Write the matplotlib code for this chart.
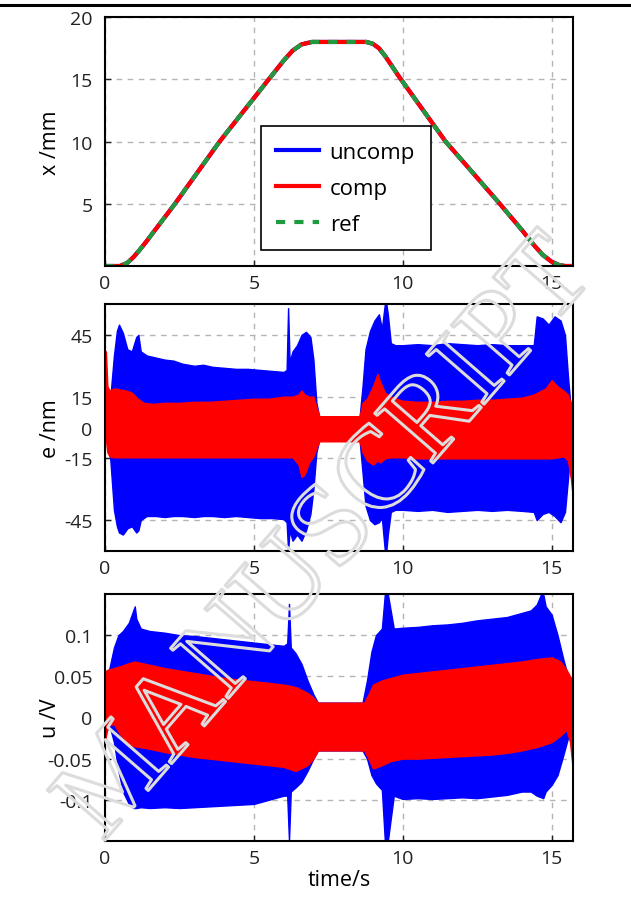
import numpy as np
import matplotlib.pyplot as plt
from matplotlib.lines import Line2D
import matplotlib.patheffects as pe

plt.rcParams['font.family'] = ['Open Sans', 'DejaVu Sans']
plt.rcParams['axes.unicode_minus'] = False

# reference trajectory x(t) in mm
t_x = [0, 0.5, 0.75, 0.95, 1.15, 1.4, 1.7, 2.35, 3.85, 5.5, 6.0, 6.3, 6.6, 6.95, 8.78, 9.0, 9.2, 9.4, 9.6, 9.85,
       11.44, 13.26, 14.0, 14.4, 14.7, 15.0, 15.25, 15.45, 15.72]
x_ref = [0, 0, 0.25, 0.7, 1.25, 2.0, 2.95, 5, 10, 15, 16.5, 17.3, 17.8, 18.0, 18.0, 17.85, 17.5, 16.9, 16.2, 15.3,
         10, 5, 2.9, 1.7, 0.9, 0.35, 0.08, 0, 0]

# tracking error envelopes (nm), uncompensated
t_e_b = [0.0, 0.15, 0.3, 0.4, 0.47, 0.6, 0.75, 0.9, 1.05, 1.12, 1.2, 1.4, 1.7, 2.0, 2.3, 2.6, 3.0, 3.3, 3.6, 4.0,
         4.4, 4.8, 5.2, 5.6, 6.0, 6.1, 6.15, 6.2, 6.3, 6.45, 6.6, 6.75, 6.9, 7.0, 7.1, 7.2, 8.55, 8.65, 8.75, 8.9,
         9.05, 9.2, 9.3, 9.4, 9.45, 9.5, 9.6, 9.75, 10.0, 10.5, 11.0, 11.5, 12.0, 12.5, 13.0, 13.5, 14.0, 14.4, 14.5,
         14.7, 14.9, 15.1, 15.3, 15.45, 15.55, 15.65, 15.72]
e_b_hi = [5, 10, 35, 47, 50, 46, 38, 37, 44, 45, 37, 35, 34, 33, 32.5, 31, 30, 30.5, 29.5, 29,
          28.5, 28.5, 28, 27.5, 27, 28, 58, 32, 37, 40, 45, 46.5, 44, 33, 12, 5, 5, 20, 38, 47,
          52, 55, 48, 60, 60, 55, 41, 40, 40, 40.5, 40, 41, 40.5, 40, 40.5, 40, 40, 40, 54,
          53, 50, 54, 52, 45, 25, 8, 2]
e_b_lo = [-5, -10, -40, -48, -51, -52, -49, -48, -51, -50, -45, -43, -43, -43.5, -43, -43, -43.5, -43, -43, -43.5,
          -43, -43.5, -44, -44, -44.5, -46, -60, -50, -55, -52, -55, -50, -42, -30, -12, -6, -6, -22, -38, -45,
          -47, -46, -44, -60, -60, -52, -41, -40, -40, -40.5, -40, -41, -40.5, -40, -40.5, -40, -40.5, -41, -45,
          -42, -41, -43, -46, -41, -25, -8, -2]

# tracking error envelopes (nm), compensated
t_e_r = [0.0, 0.03, 0.08, 0.15, 0.3, 0.5, 0.7, 0.9, 1.1, 1.3, 1.6, 2.0, 2.5, 3.0, 3.5, 4.0, 4.5, 5.0, 5.5, 6.0,
         6.3, 6.5, 6.6, 6.7, 6.85, 7.0, 7.1, 7.2, 8.55, 8.65, 8.8, 9.0, 9.15, 9.25, 9.4, 9.6, 10.0, 10.5, 11.0,
         11.5, 12.0, 12.5, 13.0, 13.5, 14.0, 14.4, 14.8, 15.0, 15.2, 15.4, 15.55, 15.65, 15.72]
e_r_hi = [37, 37, 20, 18, 19, 18.5, 18, 17, 14, 12, 11.5, 12, 12, 12.5, 12.5, 13, 13.5, 14, 14, 15,
          15, 16, 18, 16, 15, 15, 10, 5.5, 5.5, 12, 14, 20, 26, 22, 17, 15, 13, 12.5, 12.5,
          13, 13, 13.5, 13.5, 14, 14.5, 16, 19, 23, 20, 18, 16, 12, 5]
e_r_lo = [-6, -6, -12, -14, -14.5, -14.5, -14.5, -14.5, -14.5, -14.5, -14.5, -14.5, -14.5, -14.5, -14.5, -14.5, -14.5, -14.5, -14.5, -14.5,
          -14.5, -18, -24, -23, -17, -14, -10, -6.7, -6.7, -12, -16, -18, -16, -17, -15, -14.5, -14.5, -15, -15,
          -15, -15, -15, -15, -15, -15, -15, -15, -15, -14.5, -14, -16, -25, -35]

# control input envelopes (V), uncompensated
t_u_b = [0.0, 0.15, 0.3, 0.45, 0.6, 0.8, 0.95, 1.0, 1.05, 1.2, 1.5, 2.0, 2.5, 3.0, 3.5, 4.0, 4.5, 5.0, 5.5, 6.0,
         6.12, 6.18, 6.24, 6.4, 6.6, 6.8, 7.0, 7.15, 8.65, 8.8, 8.95, 9.1, 9.3, 9.4, 9.45, 9.5, 9.7, 10.0, 10.5,
         11.0, 11.5, 12.0, 12.5, 13.0, 13.5, 14.0, 14.3, 14.5, 14.65, 14.72, 14.8, 15.0, 15.2, 15.4, 15.55, 15.72]
u_b_hi = [0.05, 0.06, 0.085, 0.1, 0.105, 0.115, 0.13, 0.135, 0.12, 0.108, 0.105, 0.103, 0.1, 0.099, 0.097, 0.095, 0.093, 0.091, 0.089, 0.087,
          0.09, 0.138, 0.085, 0.078, 0.065, 0.045, 0.028, 0.018, 0.018, 0.045, 0.08, 0.1, 0.108, 0.15, 0.15, 0.15, 0.108, 0.109, 0.11,
          0.112, 0.113, 0.115, 0.118, 0.12, 0.122, 0.127, 0.13, 0.137, 0.15, 0.15, 0.135, 0.125, 0.1, 0.07, 0.05, 0.04]
u_b_lo = [-0.02, -0.01, -0.03, -0.065, -0.09, -0.105, -0.11, -0.11, -0.11, -0.109, -0.11, -0.109, -0.11, -0.109, -0.108, -0.107, -0.106, -0.105, -0.1, -0.095,
          -0.095, -0.15, -0.09, -0.085, -0.078, -0.065, -0.05, -0.04, -0.04, -0.05, -0.07, -0.08, -0.088, -0.15, -0.15, -0.15, -0.095, -0.099, -0.098,
          -0.099, -0.098, -0.097, -0.098, -0.096, -0.094, -0.09, -0.09, -0.095, -0.097, -0.098, -0.09, -0.082, -0.07, -0.045, -0.025, -0.01]

# control input envelopes (V), compensated
t_u_r = [0.0, 0.1, 0.3, 0.5, 0.8, 1.0, 1.5, 2.0, 2.5, 3.0, 3.5, 4.0, 4.5, 5.0, 5.5, 6.0, 6.4, 6.8, 7.0, 7.15,
         8.7, 8.85, 9.0, 9.3, 9.6, 10.0, 10.5, 11.0, 11.5, 12.0, 12.5, 13.0, 13.5, 14.0, 14.5, 15.0, 15.3, 15.5, 15.62, 15.72]
u_r_hi = [0.056, 0.058, 0.06, 0.062, 0.066, 0.068, 0.064, 0.06, 0.057, 0.054, 0.051, 0.048, 0.046, 0.044, 0.042, 0.04, 0.037, 0.03, 0.024, 0.018,
          0.018, 0.028, 0.04, 0.045, 0.048, 0.052, 0.054, 0.056, 0.058, 0.06, 0.062, 0.064, 0.066, 0.068, 0.071, 0.073, 0.068, 0.058, 0.05, 0.045]
u_r_lo = [-0.028, -0.01, -0.008, -0.02, -0.033, -0.035, -0.038, -0.042, -0.045, -0.048, -0.05, -0.052, -0.054, -0.056, -0.058, -0.06, -0.065, -0.058, -0.05, -0.04,
          -0.04, -0.05, -0.062, -0.058, -0.053, -0.05, -0.05, -0.049, -0.048, -0.047, -0.046, -0.045, -0.043, -0.04, -0.036, -0.03, -0.022, -0.015, -0.03, -0.065]

BLUE = '#0000ff'
RED = '#ff0000'
GREEN = '#1f9a3f'
FS = 14

fig = plt.figure(figsize=(6.31, 9.03), dpi=100)
ax1 = fig.add_axes([0.1664, 0.7043, 0.7417, 0.2757])
ax2 = fig.add_axes([0.1664, 0.3887, 0.7417, 0.2735])
ax3 = fig.add_axes([0.1664, 0.0676, 0.7417, 0.2735])

# position
ax1.plot(t_x, x_ref, color=BLUE, lw=3, label='uncomp')
ax1.plot(t_x, x_ref, color=RED, lw=3, label='comp')
ax1.plot(t_x, x_ref, color=GREEN, lw=3, ls=(0, (2.2, 2.2)), label='ref')
ax1.set_ylim(0, 20)
ax1.set_yticks([5, 10, 15, 20])
ax1.set_ylabel('x /mm', fontsize=15.5)
leg = ax1.legend(loc='upper left', bbox_to_anchor=(0.333, 0.562), fontsize=16, fancybox=False,
                 framealpha=1, edgecolor='black', handlelength=1.9, handletextpad=0.5,
                 borderpad=0.7, labelspacing=0.68, borderaxespad=0)
leg.get_frame().set_linewidth(1.2)

# error
ax2.fill_between(t_e_b, e_b_lo, e_b_hi, color=BLUE, lw=1.0)
ax2.fill_between(t_e_r, e_r_lo, e_r_hi, color=RED, lw=1.0)
ax2.set_ylim(-60, 60)
ax2.set_yticks([-45, -15, 0, 15, 45])
ax2.set_ylabel('e /nm', fontsize=15.5)

# control input
ax3.fill_between(t_u_b, u_b_lo, u_b_hi, color=BLUE, lw=1.0)
ax3.fill_between(t_u_r, u_r_lo, u_r_hi, color=RED, lw=1.0)
ax3.set_ylim(-0.15, 0.15)
ax3.set_yticks([-0.1, -0.05, 0, 0.05, 0.1])
ax3.set_yticklabels(['-0.1', '-0.05', '0', '0.05', '0.1'])
ax3.set_ylabel('u /V', fontsize=15.5)
ax3.set_xlabel('time/s', fontsize=15.5, labelpad=1)

for ax in (ax1, ax2, ax3):
    ax.set_xlim(0, 15.72)
    ax.set_xticks([0, 5, 10, 15])
    ax.grid(True, color='#b4b4b4', ls=(0, (4, 4)), lw=1.0)
    ax.set_axisbelow(True)
    ax.tick_params(direction='in', length=4, width=1, labelsize=FS, colors='#222222')
    ax.tick_params(axis='y', pad=9)
    ax.tick_params(axis='x', pad=6)
    for s in ax.spines.values():
        s.set_linewidth(1.5)
    ax.yaxis.set_label_coords(-0.095, 0.5)

# page rule and faint outlined watermark
fig.add_artist(Line2D([0, 1], [1 - 6 / 903] * 2, color='black', lw=2.2))
wm = fig.text(0.52, 0.40, 'MANUSCRIPT', fontsize=84, family='Liberation Serif', rotation=49,
              ha='center', va='center', color='none')
wm.set_path_effects([pe.Stroke(linewidth=2.2, foreground='#dcdcdc')])

fig.savefig('out.png', dpi=100)
